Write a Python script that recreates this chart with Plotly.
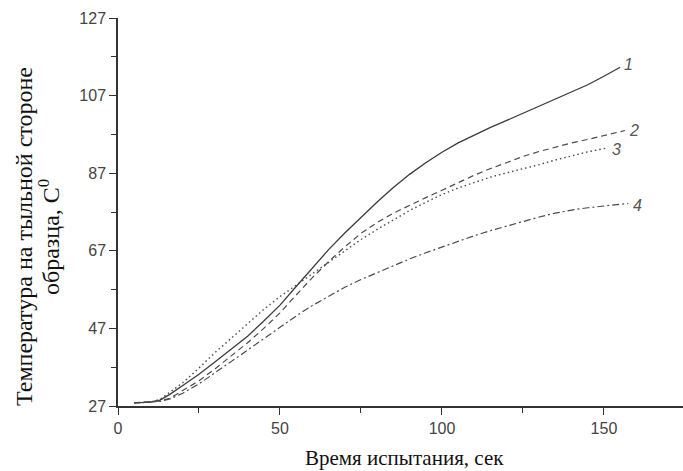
import plotly.graph_objects as go

# ---- data ----
x1 = [5, 10, 13, 16, 20, 25, 30, 35, 40, 45, 50, 55, 60, 65, 70, 75, 80, 85, 90, 95,
      100, 105, 110, 115, 120, 125, 130, 135, 140, 145, 150, 155]
y1 = [27.8, 28.0, 28.5, 30.0, 32.3, 35.2, 38.4, 41.7, 45.0, 48.9, 53.0, 57.8, 62.6, 67.3,
      71.6, 75.7, 79.6, 83.3, 86.7, 89.7, 92.4, 94.8, 96.9, 98.8, 100.6, 102.4, 104.2,
      106.0, 107.8, 109.8, 112.0, 114.3]

x2 = [5, 10, 13, 16, 20, 25, 30, 35, 40, 45, 50, 55, 60, 65, 70, 75, 80, 85, 90, 95,
      100, 105, 110, 115, 120, 125, 130, 135, 140, 145, 150, 156.5]
y2 = [27.8, 28.0, 28.3, 29.0, 31.0, 33.5, 36.6, 39.9, 43.3, 47.0, 51.0, 55.6, 60.1, 64.2,
      68.0, 71.5, 74.3, 76.7, 78.8, 80.7, 82.6, 84.6, 86.5, 88.2, 89.8, 91.3, 92.6, 93.8,
      94.8, 95.7, 96.7, 98.0]

x3 = [5, 10, 13, 16, 20, 25, 30, 35, 40, 45, 50, 55, 60, 65, 70, 75, 80, 85, 90, 95,
      100, 105, 110, 115, 120, 125, 130, 135, 140, 145, 151]
y3 = [27.8, 28.0, 28.7, 30.5, 33.0, 36.8, 40.8, 44.5, 48.3, 51.9, 55.2, 58.1, 61.0, 64.0,
      67.0, 69.9, 72.5, 75.0, 77.4, 79.5, 81.5, 83.2, 84.7, 86.0, 87.1, 88.1, 89.2, 90.4,
      91.5, 92.5, 93.5]

x4 = [5, 10, 13, 16, 20, 25, 30, 35, 40, 45, 50, 55, 60, 65, 70, 75, 80, 85, 90, 95,
      100, 105, 110, 115, 120, 125, 130, 135, 140, 145, 150, 157.5]
y4 = [27.8, 28.0, 28.2, 28.8, 30.3, 32.7, 35.5, 38.5, 41.4, 44.4, 47.3, 50.2, 52.9, 55.3,
      57.6, 59.6, 61.4, 63.2, 64.9, 66.5, 68.0, 69.4, 70.9, 72.2, 73.4, 74.6, 75.7, 76.7,
      77.5, 78.1, 78.6, 79.2]

curve_labels = ["1", "2", "3", "4"]
label_x = [157.6, 159.2, 154.0, 160.3]
label_y = [115.0, 98.0, 93.0, 78.8]

x_major = [0, 50, 100, 150]
x_minor = [25, 75, 125, 175]
y_major = [27, 47, 67, 87, 107, 127]
y_minor = [37, 57, 77, 97, 117]

x_title = "Время испытания, сек"
y_title_lines = ["Температура на тыльной стороне", "образца, C<sup>0</sup>"]

series = [(x1, y1, "solid", "#3a3a3a", 1.3),
          (x2, y2, "6px,4px", "#4a4a4a", 1.2),
          (x3, y3, "1.5px,3px", "#4a4a4a", 1.4),
          (x4, y4, "7px,3px,2px,3px", "#4a4a4a", 1.2)]

fig = go.Figure()
for xs, ys, dash, col, w in series:
    fig.add_trace(go.Scatter(x=xs, y=ys, mode="lines",
                             line=dict(color=col, width=w, dash=dash),
                             showlegend=False, hoverinfo="skip"))

for t, lx, ly in zip(curve_labels, label_x, label_y):
    fig.add_annotation(x=lx, y=ly, xref="x", yref="y", text="<i>" + t + "</i>",
                       showarrow=False, xanchor="center", yanchor="middle",
                       font=dict(family="Liberation Sans", size=16, color="#555555"))

for line_txt, px in zip(y_title_lines, [24, 49]):
    fig.add_annotation(x=(px - 118) / 565, y=(406 - 237) / 388, xref="paper", yref="paper",
                       text=line_txt, textangle=-90, showarrow=False,
                       xanchor="center", yanchor="middle",
                       font=dict(family="Liberation Serif", size=24, color="#111111"))
fig.add_annotation(x=(404 - 118) / 565, y=(406 - 458) / 388, xref="paper", yref="paper",
                   text=x_title, showarrow=False, xanchor="center", yanchor="middle",
                   font=dict(family="Liberation Serif", size=21, color="#111111"))

axis_common = dict(showgrid=False, zeroline=False, showline=True, linecolor="#333333",
                   linewidth=1.5, ticks="outside", ticklen=7, tickwidth=1.3,
                   tickcolor="#333333",
                   tickfont=dict(family="Liberation Sans", size=16, color="#444444"))

fig.update_xaxes(range=[0, 174.4], tickvals=x_major, ticktext=[str(v) for v in x_major],
                 minor=dict(tickvals=x_minor, ticks="outside", ticklen=5,
                            tickcolor="#333333", tickwidth=1.2),
                 **axis_common)
fig.update_yaxes(range=[27, 127], tickvals=y_major, ticktext=[str(v) for v in y_major],
                 minor=dict(tickvals=y_minor, ticks="outside", ticklen=5,
                            tickcolor="#333333", tickwidth=1.2),
                 **axis_common)

fig.update_layout(width=683, height=471, margin=dict(l=118, r=0, t=18, b=65),
                  paper_bgcolor="white", plot_bgcolor="white")

fig.write_html("out.html")
